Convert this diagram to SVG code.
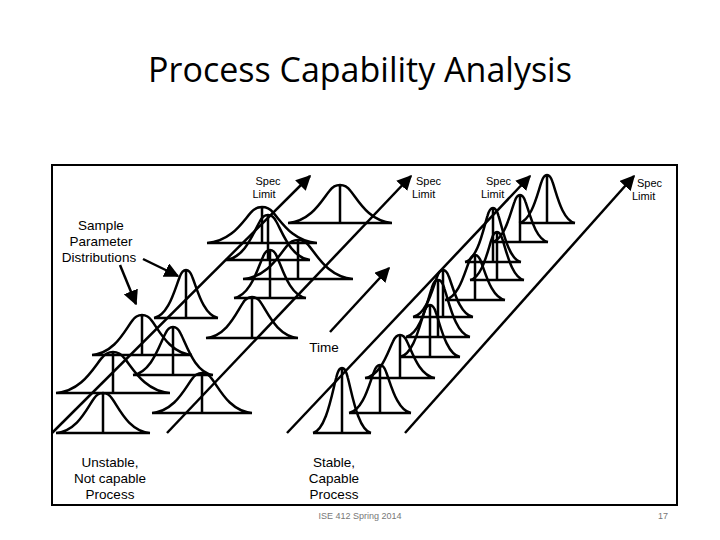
<svg xmlns="http://www.w3.org/2000/svg" width="720" height="540" viewBox="0 0 720 540">
<style>
.ln{stroke:#000;stroke-width:2.5;fill:none}
.t{font-family:"Liberation Sans",Arial,sans-serif;font-size:13.5px;fill:#000}
.b{stroke:#000;stroke-width:2.5;fill:none;vector-effect:non-scaling-stroke}
</style>
<defs>
<marker id="ah" viewBox="0 0 10 10" refX="9" refY="5" markerWidth="6" markerHeight="6" orient="auto" markerUnits="strokeWidth"><path d="M0,0 L10,5 L0,10 z" fill="#000"/></marker>
<path id="bell" class="b" d="M-1,0 C-0.55,-0.05 -0.35,-0.6 -0.2,-0.85 C-0.12,-1 -0.05,-1 0,-1 C0.05,-1 0.12,-1 0.2,-0.85 C0.35,-0.6 0.55,-0.05 1,0 M-1,0 H1 M0,0 V-1"/>
</defs>
<rect width="720" height="540" fill="#fff"/>
<text x="360" y="82" text-anchor="middle" font-family="Open Sans,Liberation Sans,sans-serif" font-size="34">Process Capability Analysis</text>
<rect x="52" y="165" width="625" height="340" fill="none" stroke="#000" stroke-width="2"/>
<g id="connectors">
<line class="ln" x1="52" y1="433" x2="310" y2="176" marker-end="url(#ah)"/>
<line class="ln" x1="167" y1="433" x2="411" y2="176" marker-end="url(#ah)"/>
<line class="ln" x1="330" y1="332" x2="389" y2="268" marker-end="url(#ah)"/>
<line class="ln" x1="287" y1="433" x2="530" y2="176" marker-end="url(#ah)"/>
<line class="ln" x1="405" y1="433" x2="634" y2="176" marker-end="url(#ah)"/>
<line class="ln" x1="120" y1="265" x2="136" y2="304" marker-end="url(#ah)"/>
<line class="ln" x1="143" y1="259" x2="178" y2="276" marker-end="url(#ah)"/>
</g>
<g id="unstable">
<use href="#bell" transform="translate(103,433) scale(47,40)"/>
<use href="#bell" transform="translate(113,393) scale(57,41)"/>
<use href="#bell" transform="translate(142,355) scale(50,40)"/>
<use href="#bell" transform="translate(173,375) scale(40,48)"/>
<use href="#bell" transform="translate(202,413) scale(50,40)"/>
<use href="#bell" transform="translate(186,318) scale(32,48)"/>
<use href="#bell" transform="translate(252,338) scale(46,41)"/>
<use href="#bell" transform="translate(270,298) scale(36,48)"/>
<use href="#bell" transform="translate(298,279) scale(55,39)"/>
<use href="#bell" transform="translate(268,260) scale(42,45)"/>
<use href="#bell" transform="translate(262,243) scale(55,36)"/>
<use href="#bell" transform="translate(340,223) scale(52,38)"/>
</g>
<g id="stable">
<use href="#bell" transform="translate(342,433) scale(29,65)"/>
<use href="#bell" transform="translate(380,413) scale(31,48)"/>
<use href="#bell" transform="translate(400,378) scale(35,43)"/>
<use href="#bell" transform="translate(430,357) scale(30,52)"/>
<use href="#bell" transform="translate(438,337) scale(32,57)"/>
<use href="#bell" transform="translate(443,317) scale(30,47)"/>
<use href="#bell" transform="translate(475,300) scale(30,45)"/>
<use href="#bell" transform="translate(497,280) scale(27,48)"/>
<use href="#bell" transform="translate(493,262) scale(28,54)"/>
<use href="#bell" transform="translate(520,242) scale(28,47)"/>
<use href="#bell" transform="translate(547,223) scale(28,48)"/>
</g>
<g id="labels" class="t">
<text x="268" y="185" text-anchor="middle" font-size="11">Spec</text><text x="264" y="198" text-anchor="middle" font-size="11">Limit</text>
<text x="416" y="185" font-size="11">Spec</text><text x="412" y="198" font-size="11">Limit</text>
<text x="486" y="185" font-size="11">Spec</text><text x="481" y="198" font-size="11">Limit</text>
<text x="637" y="187" font-size="11">Spec</text><text x="632" y="200" font-size="11">Limit</text>
<text x="101" y="230" text-anchor="middle">Sample</text>
<text x="101" y="246" text-anchor="middle">Parameter</text>
<text x="99" y="262" text-anchor="middle">Distributions</text>
<text x="324" y="352" text-anchor="middle">Time</text>
<text x="110" y="467" text-anchor="middle">Unstable,</text>
<text x="110" y="483" text-anchor="middle">Not capable</text>
<text x="110" y="499" text-anchor="middle">Process</text>
<text x="334" y="467" text-anchor="middle">Stable,</text>
<text x="334" y="483" text-anchor="middle">Capable</text>
<text x="334" y="499" text-anchor="middle">Process</text>
</g>
<text x="360" y="519" text-anchor="middle" font-family="Liberation Sans,sans-serif" font-size="9" fill="#777">ISE 412 Spring 2014</text>
<text x="668" y="519" text-anchor="end" font-family="Liberation Sans,sans-serif" font-size="9" fill="#777">17</text>
</svg>
